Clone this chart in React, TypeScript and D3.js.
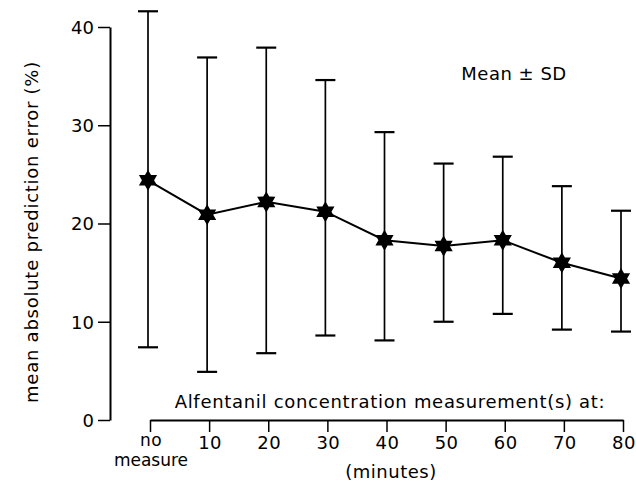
import React, { useEffect, useRef } from 'react';
import * as d3 from 'd3';

const categories = ['no', '10', '20', '30', '40', '50', '60', '70', '80'];
const means = [24.4, 20.9, 22.2, 21.2, 18.3, 17.7, 18.3, 16.0, 14.4];
const upper = [41.6, 36.9, 37.9, 34.6, 29.3, 26.1, 26.8, 23.8, 21.3];
const lower = [7.4, 4.9, 6.8, 8.6, 8.1, 10.0, 10.8, 9.2, 9.0];
const yTicks = [0, 10, 20, 30, 40];

const FONT = '"DejaVu Sans", Verdana, sans-serif';

// six-pointed star path centred on 0,0
function starPath(r: number) {
  const inner = r * 0.58;
  const pts: [number, number][] = [];
  for (let i = 0; i < 12; i++) {
    const a = (Math.PI / 6) * i - Math.PI / 2;
    const rr = i % 2 === 0 ? r : inner;
    pts.push([Math.cos(a) * rr, Math.sin(a) * rr]);
  }
  return 'M' + pts.map(p => p.join(',')).join('L') + 'Z';
}

export default function App() {
  const svgRef = useRef<SVGSVGElement>(null);

  useEffect(() => {
    if (!svgRef.current) return;
    const width = 636;
    const height = 490;

    d3.select(svgRef.current).selectAll('*').remove();
    const svg = d3.select(svgRef.current)
      .attr('width', width)
      .attr('height', height)
      .style('font-family', FONT);

    const x = d3.scalePoint<string>().domain(categories).range([148, 621]);
    const y = d3.scaleLinear().domain([0, 40]).range([420, 27]);

    // y axis
    const yAxis = svg.append('g')
      .attr('transform', 'translate(110,0)')
      .call(d3.axisLeft(y).tickValues(yTicks).tickSize(12).tickPadding(4).tickSizeOuter(0));
    yAxis.select('.domain').attr('stroke-width', 2);
    yAxis.selectAll('.tick line').attr('stroke-width', 1.5);
    yAxis.selectAll('.tick text')
      .style('font-size', '18px')
      .style('font-family', FONT)
      .attr('dy', '0.36em')
      .attr('fill', '#000');

    // x axis
    const xAxis = svg.append('g')
      .attr('transform', 'translate(2,420)')
      .call(d3.axisBottom(x).tickSize(12).tickSizeOuter(0).tickFormat(() => ''));
    xAxis.select('.domain').attr('stroke-width', 2);
    xAxis.selectAll('.tick line').attr('stroke-width', 1.5);

    svg.append('g').selectAll('text')
      .data(categories)
      .join('text')
      .attr('x', d => (x(d) as number) + 3)
      .attr('y', d => (d === 'no' ? 446 : 449))
      .attr('text-anchor', 'middle')
      .style('font-size', d => (d === 'no' ? '17px' : '18px'))
      .style('letter-spacing', '0.5px')
      .text(d => d);
    svg.append('text')
      .attr('x', (x('no') as number) + 3)
      .attr('y', 466)
      .attr('text-anchor', 'middle')
      .style('font-size', '17px')
      .text('measure');

    // error bars
    const bars = svg.append('g').attr('stroke', '#000');
    categories.forEach((c, i) => {
      const cx = x(c) as number;
      bars.append('line')
        .attr('x1', cx).attr('x2', cx)
        .attr('y1', y(upper[i])).attr('y2', y(lower[i]))
        .attr('stroke-width', 1.7);
      [upper[i], lower[i]].forEach(v => {
        bars.append('line')
          .attr('x1', cx - 10).attr('x2', cx + 10)
          .attr('y1', y(v)).attr('y2', y(v))
          .attr('stroke-width', 2.2);
      });
    });

    // mean line
    const line = d3.line<number>()
      .x((_, i) => x(categories[i]) as number)
      .y(d => y(d));
    svg.append('path')
      .datum(means)
      .attr('d', line)
      .attr('fill', 'none')
      .attr('stroke', '#000')
      .attr('stroke-width', 2);

    svg.append('g').selectAll('path')
      .data(means)
      .join('path')
      .attr('transform', (d, i) => `translate(${x(categories[i])},${y(d)})`)
      .attr('d', starPath(10.5))
      .attr('fill', '#000');

    // labels
    svg.append('text')
      .attr('x', 514)
      .attr('y', 80)
      .attr('text-anchor', 'middle')
      .style('font-size', '18px')
      .style('letter-spacing', '0.5px')
      .text('Mean ± SD');

    svg.append('text')
      .attr('transform', 'translate(38,232) rotate(-90)')
      .attr('text-anchor', 'middle')
      .style('font-size', '18px')
      .style('letter-spacing', '0.75px')
      .text('mean absolute prediction error (%)');

    svg.append('text')
      .attr('x', 390)
      .attr('y', 408)
      .attr('text-anchor', 'middle')
      .style('font-size', '18px')
      .style('letter-spacing', '0.7px')
      .text('Alfentanil concentration measurement(s) at:');

    svg.append('text')
      .attr('x', 391)
      .attr('y', 478)
      .attr('text-anchor', 'middle')
      .style('font-size', '18px')
      .style('letter-spacing', '0.5px')
      .text('(minutes)');
  }, []);

  return (
    <svg ref={svgRef} style={{ position: 'absolute', left: 0, top: 0, background: '#fff' }}></svg>
  );
}
